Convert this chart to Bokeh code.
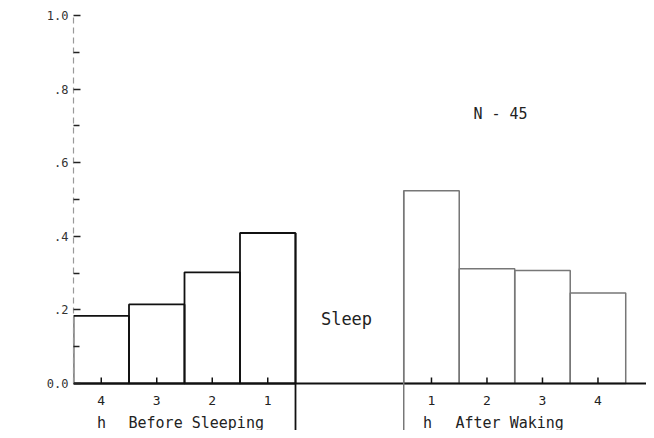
import math
from bokeh.plotting import figure
from bokeh.models import FixedTicker, Label, Range1d
from bokeh.embed import file_html
from bokeh.resources import INLINE
from bokeh.core.properties import value

# ---- data ----
before_hours = ["4", "3", "2", "1"]
before_prob = [0.184, 0.215, 0.302, 0.409]
after_hours = ["1", "2", "3", "4"]
after_prob = [0.524, 0.312, 0.307, 0.246]
y_ticks = [0.0, 0.2, 0.4, 0.6, 0.8, 1.0]
y_tick_labels = ["0.0", ".2", ".4", ".6", ".8", "1.0"]
y_minor = [0.1, 0.3, 0.5, 0.7, 0.9]
before_title = "Before Sleeping"
after_title = "After Waking"
hour_unit = "h"
sleep_label = "Sleep"
n_label = "N - 45"
y_title = "Probability of Yawning"

# ---- layout ----
W, H = 646, 430
BORDER_LEFT, BORDER_TOP = 73, 15
PX_Y = 368.0          # pixels per 1.0 probability
PX_X = 55.5           # pixels per hour slot
GAP = 1.95            # slot units between sleep onset and waking
FONT = value("DejaVu Sans Mono")

frame_w = W - BORDER_LEFT
frame_h = H - BORDER_TOP
x_left = -4.0
x_right = x_left + frame_w / PX_X
y_bottom = 1.0 - frame_h / PX_Y


def dx(px):  # picture x pixel -> data x
    return (px - BORDER_LEFT) / PX_X + x_left


def dy(py):  # picture y pixel -> data y
    return (BORDER_TOP + PX_Y - py) / PX_Y


p = figure(width=W, height=H, x_range=Range1d(x_left, x_right),
           y_range=Range1d(y_bottom, 1.0), output_backend="svg",
           toolbar_location=None, x_axis_location=None,
           min_border_left=BORDER_LEFT, min_border_right=0,
           min_border_top=BORDER_TOP, min_border_bottom=0)
p.outline_line_color = None
p.xgrid.visible = False
p.ygrid.visible = False
p.background_fill_color = "white"

yax = p.yaxis[0]
yax.bounds = (0.0, 1.0)
yax.ticker = FixedTicker(ticks=y_ticks, minor_ticks=y_minor)
yax.major_label_overrides = {t: l for t, l in zip(y_ticks, y_tick_labels)}
yax.major_tick_in = 7
yax.major_tick_out = 0
yax.minor_tick_in = 6
yax.minor_tick_out = 0
yax.major_tick_line_color = "#222222"
yax.minor_tick_line_color = "#222222"
yax.major_tick_line_width = 1.5
yax.minor_tick_line_width = 1.5
yax.axis_line_color = "#999999"
yax.axis_line_dash = "6 4"
yax.axis_line_width = 1.2
yax.major_label_standoff = 5
yax.major_label_text_font = "DejaVu Sans Mono"
yax.major_label_text_font_size = "12px"
yax.major_label_text_color = "#333333"

# bars before sleeping (slots -4..0)
b_left = [x_left + i for i in range(len(before_prob))]
b_right = [l + 1 for l in b_left]
p.quad(left=b_left, right=b_right, bottom=0, top=before_prob,
       fill_alpha=0, line_color="#111111", line_width=1.8)

# bars after waking
a_left = [GAP + i for i in range(len(after_prob))]
a_right = [l + 1 for l in a_left]
p.quad(left=a_left, right=a_right, bottom=0, top=after_prob,
       fill_alpha=0, line_color="#777777", line_width=1.5)

# baseline
p.segment(x0=[x_left], y0=[0], x1=[x_right], y1=[0],
          line_color="#111111", line_width=2)

# sleep onset / waking markers extending below the baseline
p.segment(x0=[b_right[-1]], y0=[before_prob[-1]], x1=[b_right[-1]], y1=[dy(430)],
          line_color="#111111", line_width=1.8)
p.segment(x0=[a_left[0]], y0=[after_prob[0]], x1=[a_left[0]], y1=[dy(432)],
          line_color="#777777", line_width=1.5)

# x ticks (inward, small)
centers = [(l + r) / 2 for l, r in zip(b_left, b_right)] + \
          [(l + r) / 2 for l, r in zip(a_left, a_right)]
p.segment(x0=centers, y0=0, x1=centers, y1=6 / PX_Y,
          line_color="#111111", line_width=1.5)

# x tick labels
p.text(x=centers, y=dy(400), text=before_hours + after_hours,
       text_font=FONT, text_font_size="13px", text_align="center",
       text_baseline="middle", text_color="#222222")

# group titles
p.text(x=[dx(101), dx(128), dx(427), dx(455)], y=dy(422),
       text=[hour_unit, before_title, hour_unit, after_title],
       text_font=FONT, text_font_size="15px", text_align=["center", "left", "center", "left"],
       text_baseline="middle", text_color="#222222")

# in-plot labels
p.text(x=[dx(346)], y=[dy(318)], text=[sleep_label], text_font=FONT,
       text_font_size="17px", text_align="center", text_baseline="middle",
       text_color="#222222")
p.text(x=[dx(500)], y=[dy(113)], text=[n_label], text_font=FONT,
       text_font_size="15px", text_align="center", text_baseline="middle",
       text_color="#222222")

# y-axis title
p.add_layout(Label(x=x_left, y=dy(211), x_offset=-52, text=y_title,
                   angle=math.pi / 2, text_align="center", text_baseline="middle",
                   text_font="DejaVu Sans Mono", text_font_size="14px",
                   text_color="#333333"))

open("out.html", "w").write(file_html(p, INLINE))
